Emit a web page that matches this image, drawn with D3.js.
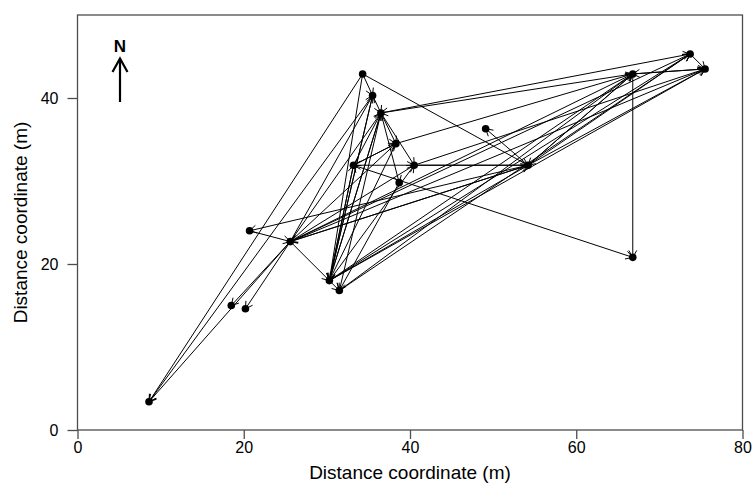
<!DOCTYPE html>
<html>
<head>
<meta charset="utf-8">
<script src="https://cdn.jsdelivr.net/npm/d3@7"></script>
<style>
  html, body { margin: 0; padding: 0; background: #fff; }
  svg { display: block; font-family: "Liberation Sans", Arial, Helvetica, sans-serif; }
</style>
</head>
<body>
<svg id="chart" width="753" height="485"></svg>
<script>
// Site coordinates (m), one entry per recorded location
const siteX = [8.6, 18.5, 20.2, 20.7, 25.6, 30.3, 31.5, 34.3, 35.5, 36.5,
               33.2, 38.3, 38.7, 40.5, 49.1, 54.2, 66.8, 66.8, 73.7, 75.5];
const siteY = [3.4, 15.0, 14.6, 24.0, 22.7, 18.0, 16.8, 42.9, 40.3, 38.2,
               31.9, 34.5, 29.8, 31.9, 36.3, 31.9, 20.8, 42.9, 45.3, 43.5];

// Observed movements between sites (1-based site numbers): from -> to
const moveFrom = [8, 8, 8, 9, 9, 8, 6, 9, 10, 6, 10, 11, 6, 12, 6, 13, 10, 10, 10, 10,
                  18, 5, 5, 5, 5, 5, 6, 4, 16, 5, 5, 5, 5, 16, 5, 20, 19, 6, 6, 6,
                  6, 7, 16, 16, 16, 18, 19, 18, 20, 18, 11, 16, 16, 14, 12, 14, 12, 11, 11, 7];
const moveTo   = [9, 1, 16, 1, 10, 6, 9, 6, 6, 10, 7, 6, 11, 6, 14, 7, 12, 14, 13, 19,
                  10, 10, 12, 14, 9, 6, 7, 5, 4, 1, 2, 3, 16, 5, 18, 5, 5, 16, 18, 19,
                  20, 19, 18, 19, 20, 16, 20, 20, 18, 17, 17, 15, 11, 16, 18, 20, 11, 12, 10, 18];

const xTicks = [0, 20, 40, 60, 80];
const yTicks = [0, 20, 40];
const xTitle = "Distance coordinate (m)";
const yTitle = "Distance coordinate (m)";

const svg = d3.select("#chart");
const x = d3.scaleLinear().domain([0, 80]).range([77.5, 742.5]);
const y = d3.scaleLinear().domain([0, 50]).range([430, 15]);

const frameColor = "#4d4d4d";

// X axis
const xAxis = svg.append("g")
  .attr("transform", `translate(0,${y(0)})`)
  .call(d3.axisBottom(x).tickValues(xTicks).tickSize(9).tickPadding(3).tickSizeOuter(0));
// Y axis
const yAxis = svg.append("g")
  .attr("transform", `translate(${x(0)},0)`)
  .call(d3.axisLeft(y).tickValues(yTicks).tickSize(10).tickPadding(9).tickSizeOuter(0));

[xAxis, yAxis].forEach(g => {
  g.select(".domain").remove();
  g.selectAll(".tick line").attr("stroke", frameColor).attr("stroke-width", 1.3);
  g.selectAll(".tick text").attr("fill", "#000").attr("font-size", 16)
    .attr("font-family", "Liberation Sans, Arial, sans-serif");
});

// Plot frame
svg.append("rect")
  .attr("x", x(0)).attr("y", y(50))
  .attr("width", x(80) - x(0)).attr("height", y(0) - y(50))
  .attr("fill", "none").attr("stroke", frameColor).attr("stroke-width", 1.3);

// Axis titles
svg.append("text")
  .attr("x", (x(0) + x(80)) / 2).attr("y", 479)
  .attr("text-anchor", "middle").attr("font-size", 19).attr("fill", "#000")
  .text(xTitle);
svg.append("text")
  .attr("transform", `translate(27,${(y(0) + y(50)) / 2}) rotate(-90)`)
  .attr("text-anchor", "middle").attr("font-size", 19).attr("fill", "#000")
  .text(yTitle);

// Movement arrows
const moves = moveFrom.map((f, i) => ({
  x1: x(siteX[f - 1]), y1: y(siteY[f - 1]),
  x2: x(siteX[moveTo[i] - 1]), y2: y(siteY[moveTo[i] - 1])
}));
const headLen = 8, headAng = Math.PI / 6;
const arrows = svg.append("g").attr("stroke", "#000").attr("stroke-width", 1).attr("fill", "none");
arrows.selectAll("line.shaft").data(moves).join("line")
  .attr("class", "shaft")
  .attr("x1", d => d.x1).attr("y1", d => d.y1)
  .attr("x2", d => d.x2).attr("y2", d => d.y2);
arrows.selectAll("path.head").data(moves).join("path")
  .attr("class", "head")
  .attr("d", d => {
    const a = Math.atan2(d.y2 - d.y1, d.x2 - d.x1);
    const p1 = [d.x2 - headLen * Math.cos(a - headAng), d.y2 - headLen * Math.sin(a - headAng)];
    const p2 = [d.x2 - headLen * Math.cos(a + headAng), d.y2 - headLen * Math.sin(a + headAng)];
    return `M${p1[0]},${p1[1]}L${d.x2},${d.y2}L${p2[0]},${p2[1]}`;
  });

// Sites
svg.append("g").selectAll("circle").data(siteX).join("circle")
  .attr("cx", d => x(d))
  .attr("cy", (d, i) => y(siteY[i]))
  .attr("r", 3.8)
  .attr("fill", "#000");

// North arrow
const north = svg.append("g");
north.append("text")
  .attr("x", 120).attr("y", 51.5)
  .attr("text-anchor", "middle").attr("font-size", 17).attr("font-weight", "bold").attr("fill", "#000")
  .text("N");
north.append("line")
  .attr("x1", 120).attr("y1", 102).attr("x2", 120).attr("y2", 59)
  .attr("stroke", "#000").attr("stroke-width", 2.2);
north.append("path")
  .attr("d", "M112.5,72 L120,58.5 L127.5,72")
  .attr("fill", "none").attr("stroke", "#000").attr("stroke-width", 2.2);
</script>
</body>
</html>
